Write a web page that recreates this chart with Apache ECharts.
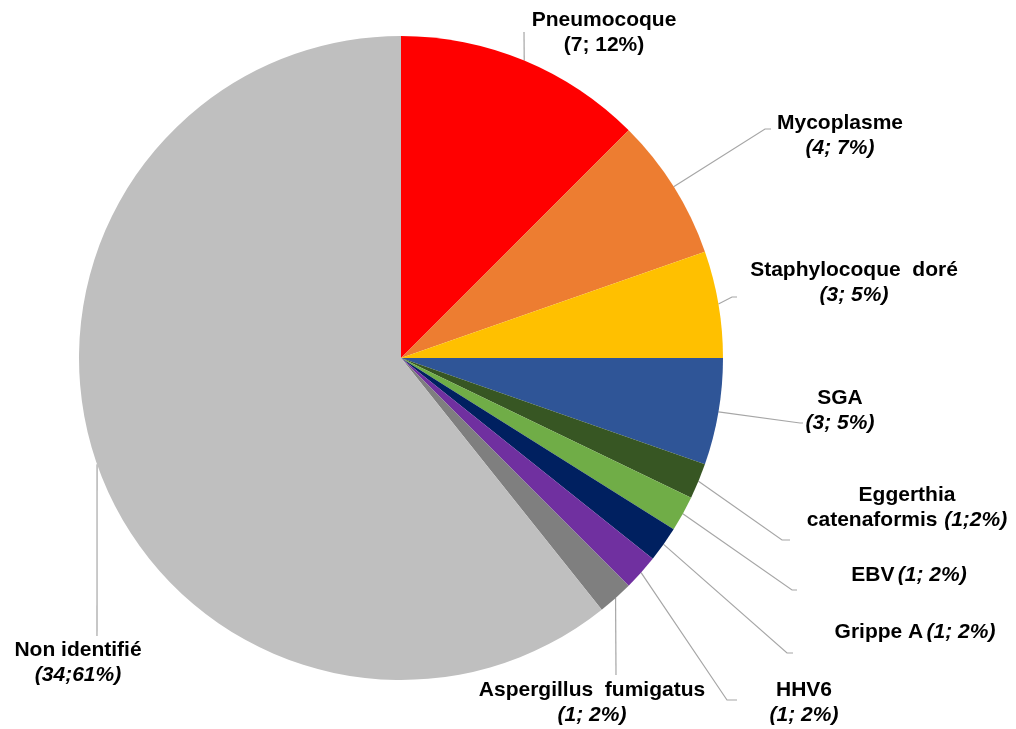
<!DOCTYPE html>
<html>
<head>
<meta charset="utf-8">
<script src="https://cdn.jsdelivr.net/npm/echarts@6/dist/echarts.min.js"></script>
<style>
  html, body { margin: 0; padding: 0; background: #ffffff; }
  #chart { width: 1016px; height: 729px; }
</style>
</head>
<body>
<div id="chart"></div>
<script>
// ---- data ----
const categories = ['Pneumocoque', 'Mycoplasme', 'Staphylocoque  doré', 'SGA', 'Eggerthia catenaformis', 'EBV', 'Grippe A', 'HHV6', 'Aspergillus  fumigatus', 'Non identifié'];
const counts = [7, 4, 3, 3, 1, 1, 1, 1, 1, 34];
const countLabels = ['(7; 12%)', '(4; 7%)', '(3; 5%)', '(3; 5%)', '(1;2%)', '(1; 2%)', '(1; 2%)', '(1; 2%)', '(1; 2%)', '(34;61%)'];
const colors = ['#FF0000', '#ED7D31', '#FFC000', '#2F5597', '#375623', '#70AD47', '#002060', '#7030A0', '#7F7F7F', '#BFBFBF'];

// ---- label text layout (how each label is broken into lines) ----
const labelText = [
  '{n|Pneumocoque}\n{p|(7; 12%)}',
  '{n|Mycoplasme}\n{v|' + countLabels[1] + '}',
  '{n|Staphylocoque  doré}\n{v|' + countLabels[2] + '}',
  '{n|SGA}\n{v|' + countLabels[3] + '}',
  '{n|Eggerthia}\n{n|catenaformis}  {v|' + countLabels[4] + '}',
  '{n|EBV} {v|' + countLabels[5] + '}',
  '{n|Grippe A} {v|' + countLabels[6] + '}',
  '{n|HHV6}\n{v|' + countLabels[7] + '}',
  '{n|Aspergillus  fumigatus}\n{v|' + countLabels[8] + '}',
  '{n|Non identifié}\n{v|' + countLabels[9] + '}'
];

// label placement (style / layout only)
const labelPlace = [
  { c: [604, 33], line: [[524, 32]] },
  { c: [840, 136], line: [[765, 129], [771, 129]] },
  { c: [854, 283], line: [[732, 297], [737, 297]] },
  { c: [840, 411], line: [[800, 423], [803, 423]] },
  { c: [907, 508], line: [[782, 540], [790, 540]] },
  { c: [909, 575], line: [[792, 590], [797, 590]] },
  { c: [915, 632], line: [[787, 653], [793, 653]] },
  { c: [804, 703], line: [[727, 700], [737, 700]] },
  { c: [592, 703], line: [[616, 675]] },
  { c: [78, 663], line: [[97, 636]] }
];

const CX = 401, CY = 358, R = 322;
const total = counts.reduce((a, b) => a + b, 0);
function edgePoint(i) {
  let before = 0;
  for (let k = 0; k < i; k++) before += counts[k];
  const mid = (before + counts[i] / 2) / total * 2 * Math.PI;
  return [CX + R * Math.sin(mid), CY - R * Math.cos(mid)];
}

const chart = echarts.init(document.getElementById('chart'), null, { renderer: 'canvas' });
const font = '"Liberation Sans", Arial, sans-serif';

chart.setOption({
  animation: false,
  backgroundColor: '#ffffff',
  series: [{
    type: 'pie',
    center: [CX, CY],
    radius: [0, R],
    startAngle: 90,
    clockwise: true,
    avoidLabelOverlap: false,
    data: categories.map((name, i) => ({
      name: name,
      value: counts[i],
      itemStyle: { color: colors[i] }
    })),
    itemStyle: { borderWidth: 0 },
    emphasis: { disabled: true },
    label: {
      show: true,
      position: 'outside',
      formatter: p => labelText[p.dataIndex],
      align: 'center',
      color: '#000',
      fontFamily: font,
      lineHeight: 25,
      rich: {
        n: { fontFamily: font, fontSize: 21, fontWeight: 'bold', color: '#000', lineHeight: 25 },
        v: { fontFamily: font, fontSize: 21, fontWeight: 'bold', fontStyle: 'italic', color: '#000', lineHeight: 25 },
        p: { fontFamily: font, fontSize: 21, fontWeight: 'bold', color: '#000', lineHeight: 25 }
      }
    },
    labelLine: {
      show: true,
      length: 20,
      length2: 10,
      smooth: false,
      lineStyle: { color: '#A6A6A6', width: 1.2 }
    },
    labelLayout: function (params) {
      const i = params.dataIndex;
      const pl = labelPlace[i];
      const start = edgePoint(i);
      return {
        x: pl.c[0],
        y: pl.c[1],
        align: 'center',
        verticalAlign: 'middle',
        labelLinePoints: [start].concat(pl.line)
      };
    }
  }]
});
</script>
</body>
</html>
